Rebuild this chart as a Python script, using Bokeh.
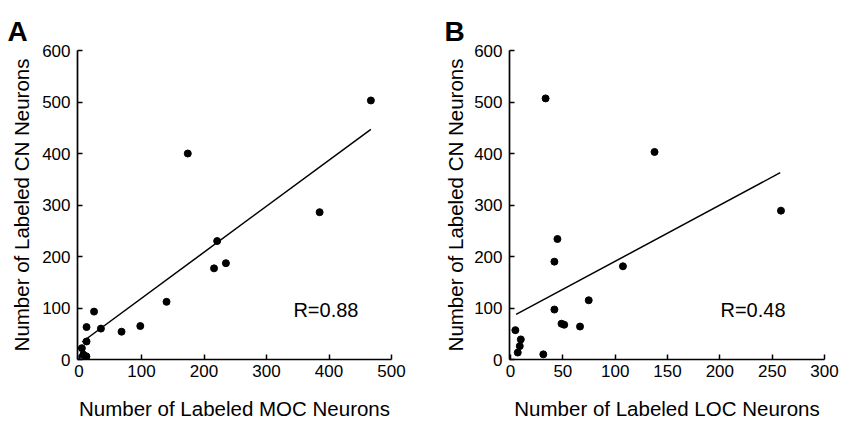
from bokeh.plotting import figure
from bokeh.layouts import row
from bokeh.models import Label, FixedTicker, Range1d, Title
from bokeh.embed import file_html
from bokeh.resources import INLINE

# ---- data ----
moc_x = [467, 174, 385, 221, 216, 235, 140, 24, 12, 35, 68, 98, 12, 4.5, 7, 11.5]
cn_a = [503, 400, 286, 230, 177, 187, 112, 93, 63, 60, 54, 65, 35, 22, 9, 6]
fit_a_x = [5, 467]
fit_a_y = [34, 447]

loc_x = [33.5, 137.6, 258.4, 44.8, 41.9, 107.4, 74.7, 41.9, 48.7, 51.3, 66.4, 4.6, 9.8, 8.8, 6.9, 31.3]
cn_b = [507, 403, 289, 234, 190, 181, 115, 97, 69.5, 67.5, 64, 57, 39, 26, 13.5, 10]
fit_b_x = [5.3, 257.7]
fit_b_y = [87.5, 362.7]

y_ticks = [0, 100, 200, 300, 400, 500, 600]
x_ticks_a = [0, 100, 200, 300, 400, 500]
x_ticks_b = [0, 50, 100, 150, 200, 250, 300]

origin_x = [1]
origin_y = [3]

FONT = "Liberation Sans"
H = 422
TOP = 50
FRAME_H = 309


def make(xs, ys, fx, fy, xr, xticks, xlabel, letter, letter_off, rtext, r_x, r_y,
         width, bl, br, y_title_standoff):
    p = figure(width=width, height=H, x_range=Range1d(*xr), y_range=Range1d(0, 600),
               output_backend="svg", toolbar_location=None,
               min_border_left=bl, min_border_right=br,
               min_border_top=TOP, min_border_bottom=H - TOP - FRAME_H)
    p.outline_line_color = None
    p.grid.visible = False
    p.background_fill_color = "white"
    p.border_fill_color = "white"

    p.title = Title(text=letter, align="left", offset=letter_off, standoff=7,
                    text_font=FONT, text_font_size="28px", text_font_style="bold",
                    text_color="black")

    p.xaxis.ticker = FixedTicker(ticks=xticks)
    p.yaxis.ticker = FixedTicker(ticks=y_ticks)
    for ax in (p.xaxis, p.yaxis):
        ax.axis_line_width = 1.7
        ax.axis_line_color = "black"
        ax.major_tick_in = 5
        ax.major_tick_out = 0
        ax.major_tick_line_width = 1.5
        ax.major_tick_line_color = "black"
        ax.minor_tick_line_color = None
        ax.major_label_text_font = FONT
        ax.major_label_text_font_size = "17px"
        ax.major_label_text_color = "black"
        ax.axis_label_text_font = FONT
        ax.axis_label_text_font_size = "20.5px"
        ax.axis_label_text_font_style = "normal"
        ax.axis_label_text_color = "black"
    p.xaxis.axis_label = xlabel
    p.yaxis.axis_label = "Number of Labeled CN Neurons"
    p.xaxis.major_label_standoff = 5
    p.xaxis.axis_label_standoff = 17
    p.yaxis.major_label_standoff = 7
    p.yaxis.axis_label_standoff = y_title_standoff

    p.line(fx, fy, line_color="black", line_width=1.5)
    p.scatter(xs, ys, size=7, fill_color="black", line_color="black")

    p.add_layout(Label(x=r_x, y=r_y, text=rtext, text_font=FONT,
                       text_font_size="20px", text_baseline="alphabetic",
                       text_color="black"))
    return p


pa = make(moc_x, cn_a, fit_a_x, fit_a_y, (-2.5, 500), x_ticks_a,
          "Number of Labeled MOC Neurons", "A", -70, "R=0.88", 343, 97,
          417, 77, 26, 6)
pa.scatter(origin_x, origin_y, marker="triangle", size=6,
           fill_color="#5a5ab8", line_color="#4a4aa8", fill_alpha=0.8)
pa.scatter([moc_x[-1], moc_x[-2]], [cn_a[-1], cn_a[-2]], size=7,
           fill_color="black", line_color="black")

pb = make(loc_x, cn_b, fit_b_x, fit_b_y, (-1, 300), x_ticks_b,
          "Number of Labeled LOC Neurons", "B", -65, "R=0.48", 200.6, 96.5,
          422, 92, 15, 4)

layout = row(pa, pb)
open("out.html", "w").write(file_html(layout, INLINE))
